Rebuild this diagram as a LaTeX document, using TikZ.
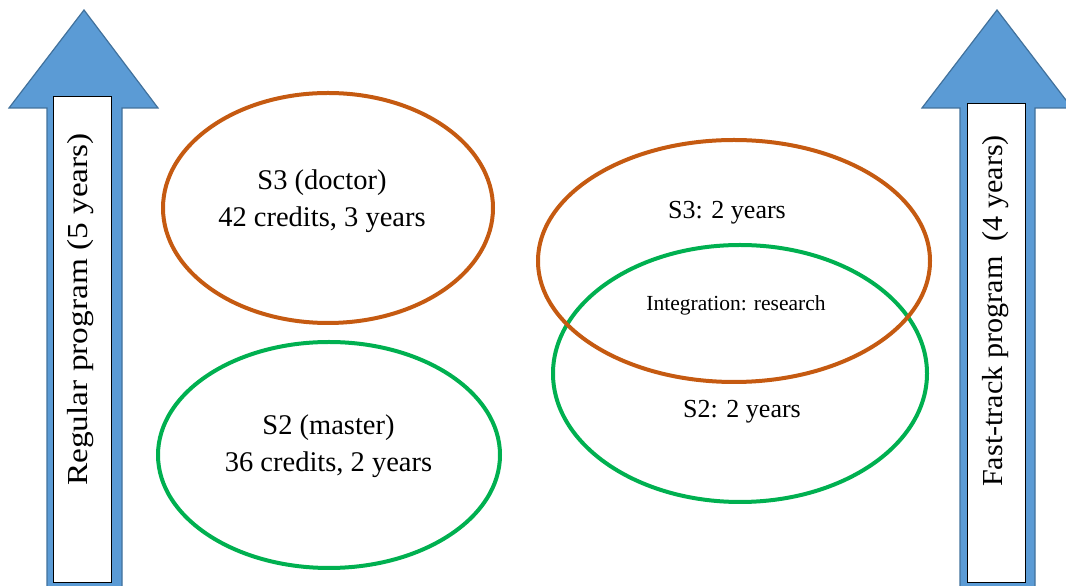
\documentclass[tikz,border=0pt]{standalone}
\usepackage{fontspec}
\setmainfont{Liberation Serif}
\usetikzlibrary{shapes.geometric}
\definecolor{arrowfill}{HTML}{5B9BD5}
\definecolor{arrowline}{HTML}{41719C}
\definecolor{docorange}{HTML}{C55A11}
\definecolor{mastgreen}{HTML}{00B050}
\begin{document}
\begin{tikzpicture}[x=1pt,y=1pt,
  bigarrow/.style={fill=arrowfill, draw=arrowline, line width=1.2pt, line join=miter},
  labelbox/.style={draw=black, fill=white, line width=1pt, inner sep=0pt},
  sidetext/.style={rotate=90, inner sep=0pt, font=\fontsize{29}{34}\selectfont},
  ring/.style={ellipse, line width=4pt, inner sep=0pt},
  docring/.style={ring, draw=docorange},
  mastring/.style={ring, draw=mastgreen},
  caption/.style={align=center, inner sep=0pt, font=\fontsize{28.5}{37}\selectfont},
  smallcap/.style={inner sep=0pt, font=\fontsize{26}{30}\selectfont},
  tinycap/.style={inner sep=0pt, font=\fontsize{21.5}{25}\selectfont}]
\useasboundingbox (0,0) rectangle (1066,586);

% regular program arrow
\draw[bigarrow] (47,-4) -- (47,478) -- (9,478) -- (84,576) -- (158,478)
  -- (122,478) -- (122,-4) -- cycle;
\node[labelbox, minimum width=58pt, minimum height=486pt] (regbox) at (82,246) {};
\node[sidetext] (regtext) at (81,276.5) {\scalebox{1.15}[1]{Regular program (5 years)}};

% fast-track program arrow
\draw[bigarrow] (960,-4) -- (960,478) -- (922,478) -- (997,576) -- (1072,478)
  -- (1035,478) -- (1035,-4) -- cycle;
\node[labelbox, minimum width=58pt, minimum height=479pt] (fastbox) at (996,242.5) {};
\node[sidetext] (fasttext) at (996,275) {\scalebox{1.04}[1]{Fast-track program\ \ (4 years)}};

% regular program stages
\node[docring, minimum width=330pt, minimum height=230pt] (s3reg) at (328,378) {};
\node[mastring, minimum width=342pt, minimum height=226pt] (s2reg) at (329,131) {};
\node[caption] (s3regtext) at (322,384.5) {S3 (doctor)\\42 credits, 3 years};
\node[caption] (s2regtext) at (328.5,139.5) {S2 (master)\\36 credits, 2 years};

% fast-track stages, overlapping
\node[mastring, minimum width=374pt, minimum height=257pt] (s2fast) at (740,212.5) {};
\node[docring, minimum width=392pt, minimum height=242pt] (s3fast) at (734,325) {};
\node[smallcap] (s3fasttext) at (727,373) {S3: 2 years};
\node[tinycap] (integr) at (736,281) {Integration: research};
\node[smallcap] (s2fasttext) at (742,174) {S2: 2 years};
\end{tikzpicture}
\end{document}
